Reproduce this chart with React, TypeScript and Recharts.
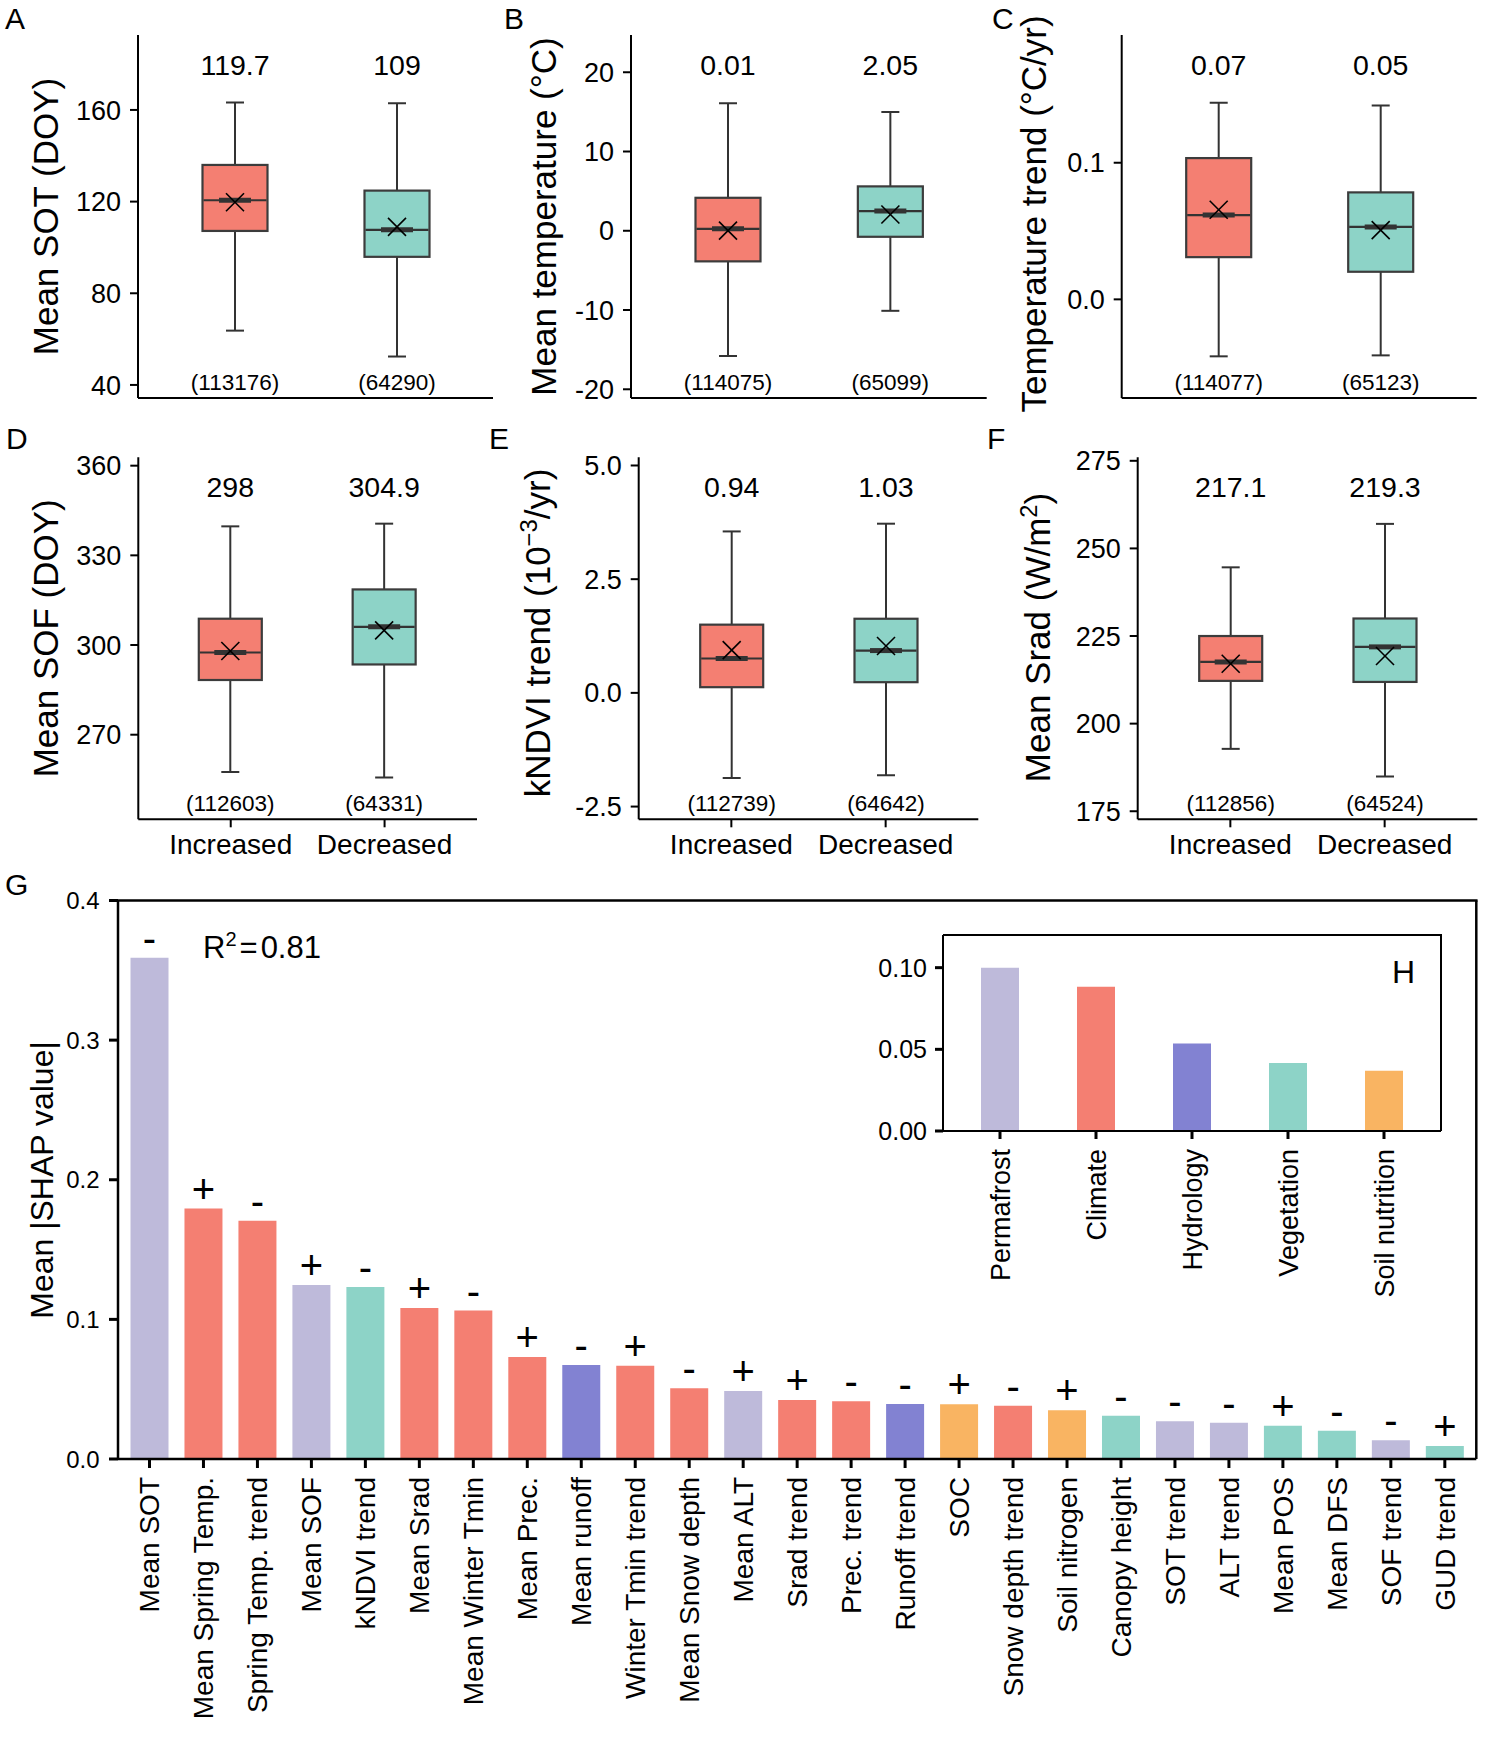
import React from 'react';
import { BarChart, Bar, XAxis, YAxis, Cell, LabelList, Customized } from 'recharts';

const FONT = "'Liberation Sans', Arial, Helvetica, sans-serif";

// ---------- Panels A-F (box plots) ----------
const groupLabels = ['Increased', 'Decreased'];
const boxFills = ['#F47F72', '#8DD3C7'];

// [whisker low, Q1, median, Q3, whisker high]
const sotBox = [[63.7, 107.2, 120.6, 136.0, 163.2], [52.4, 95.9, 107.7, 124.8, 162.9]];
const sotMean = [119.7, 109];
const sotN = [113176, 64290];

const tempBox = [[-15.8, -3.86, 0.25, 4.16, 16.1], [-10.1, -0.76, 2.48, 5.6, 15.0]];
const tempMean = [0.01, 2.05];
const tempN = [114075, 65099];

const trendBox = [[-0.0417, 0.0309, 0.0617, 0.1034, 0.144], [-0.041, 0.0202, 0.053, 0.0783, 0.1419]];
const trendMean = [0.0656, 0.0507];
const trendN = [114077, 65123];

const sofBox = [[257.5, 288.3, 297.5, 308.8, 339.7], [255.7, 293.5, 306.1, 318.6, 340.6]];
const sofMean = [298, 304.9];
const sofN = [112603, 64331];

const kndviBox = [[-1.87, 0.125, 0.756, 1.5, 3.55], [-1.81, 0.235, 0.93, 1.63, 3.72]];
const kndviMean = [0.94, 1.03];
const kndviN = [112739, 64642];

const sradBox = [[192.8, 212.2, 217.6, 225.0, 244.6], [184.9, 211.9, 221.9, 230.0, 257.0]];
const sradMean = [217.1, 219.3];
const sradN = [112856, 64524];

// ---------- Panel G ----------
const features = [
  'Mean SOT', 'Mean Spring Temp.', 'Spring Temp. trend', 'Mean SOF', 'kNDVI trend', 'Mean Srad',
  'Mean Winter Tmin', 'Mean Prec.', 'Mean runoff', 'Winter Tmin trend', 'Mean Snow depth', 'Mean ALT',
  'Srad trend', 'Prec. trend', 'Runoff trend', 'SOC', 'Snow depth trend', 'Soil nitrogen',
  'Canopy height', 'SOT trend', 'ALT trend', 'Mean POS', 'Mean DFS', 'SOF trend', 'GUD trend',
];
const shapValues = [
  0.359, 0.1794, 0.1706, 0.1246, 0.1232, 0.1082, 0.1063, 0.0731, 0.0674, 0.0668, 0.0506, 0.0487,
  0.0423, 0.0413, 0.0394, 0.0392, 0.0382, 0.0349, 0.031, 0.027, 0.026, 0.0239, 0.0203, 0.0134, 0.0093,
];
const shapSigns = [
  '-', '+', '-', '+', '-', '+', '-', '+', '-', '+', '-', '+', '+', '-', '-', '+', '-', '+', '-', '-', '-', '+', '-', '-', '+',
];
const featureGroups = [
  'Permafrost', 'Climate', 'Climate', 'Permafrost', 'Vegetation', 'Climate', 'Climate', 'Climate', 'Hydrology',
  'Climate', 'Climate', 'Permafrost', 'Climate', 'Climate', 'Hydrology', 'Soil nutrition', 'Climate',
  'Soil nutrition', 'Vegetation', 'Permafrost', 'Permafrost', 'Vegetation', 'Vegetation', 'Permafrost', 'Vegetation',
];

// ---------- Panel H ----------
const groupNames = ['Permafrost', 'Climate', 'Hydrology', 'Vegetation', 'Soil nutrition'];
const groupValues = [0.1, 0.0883, 0.0535, 0.0416, 0.0369];
const groupColorList = ['#BEBADA', '#F47F72', '#8282D2', '#8DD3C7', '#F9B462'];

const groupColor: Record<string, string> = {};
groupNames.forEach((g, i) => { groupColor[g] = groupColorList[i]; });

type Seg = [string, boolean];
type Panel = {
  letter: string; L: number; T: number; W: number; H: number;
  axisX: number; plotTop: number; plotBottom: number; plotRight: number;
  domain: [number, number]; ticks: number[]; fmt: (v: number) => string; digits: number;
  boxes: number[][]; means: number[]; ns: number[]; barSize: number; showLabels: boolean;
  title: Seg[]; titleX: number; titleY: number; letterX: number; letterY: number;
};

const row1 = { T: 0, H: 420, plotTop: 35, plotBottom: 398, barSize: 65, showLabels: false };
const row2 = { T: 420, H: 450, plotTop: 457.3, plotBottom: 819.3, barSize: 63, showLabels: true };

const panels: Panel[] = [
  { ...row1, letter: 'A', L: 0, W: 500, axisX: 138, plotRight: 493, domain: [34.3, 192.7], ticks: [40, 80, 120, 160],
    fmt: (v) => String(v), digits: 1, boxes: sotBox, means: sotMean, ns: sotN,
    title: [['Mean SOT (DOY)', false]], titleX: 58, titleY: 216.5, letterX: 5, letterY: 29 },
  { ...row1, letter: 'B', L: 495, W: 500, axisX: 631, plotRight: 986.7, domain: [-21.1, 24.7], ticks: [-20, -10, 0, 10, 20],
    fmt: (v) => String(v), digits: 2, boxes: tempBox, means: tempMean, ns: tempN,
    title: [['Mean temperature (\u00B0C)', false]], titleX: 556, titleY: 216.5, letterX: 504, letterY: 29 },
  { ...row1, letter: 'C', L: 990, W: 513, axisX: 1121.7, plotRight: 1476.7, domain: [-0.0722, 0.1935], ticks: [0, 0.1],
    fmt: (v) => v.toFixed(1), digits: 2, boxes: trendBox, means: trendMean, ns: trendN,
    title: [['Temperature trend (\u00B0C/yr)', false]], titleX: 1046, titleY: 214, letterX: 992, letterY: 29 },
  { ...row2, letter: 'D', L: 0, W: 490, axisX: 138.3, plotRight: 477, domain: [241.7, 362.8], ticks: [270, 300, 330, 360],
    fmt: (v) => String(v), digits: 1, boxes: sofBox, means: sofMean, ns: sofN,
    title: [['Mean SOF (DOY)', false]], titleX: 58, titleY: 638.3, letterX: 6, letterY: 449 },
  { ...row2, letter: 'E', L: 485, W: 500, axisX: 638.7, plotRight: 978.3, domain: [-2.78, 5.18], ticks: [-2.5, 0, 2.5, 5],
    fmt: (v) => v.toFixed(1), digits: 2, boxes: kndviBox, means: kndviMean, ns: kndviN,
    title: [['kNDVI trend (10', false], ['\u22123', true], ['/yr)', false]], titleX: 550, titleY: 633, letterX: 489, letterY: 449 },
  { ...row2, letter: 'F', L: 983, W: 520, axisX: 1137.7, plotRight: 1477.3, domain: [172.7, 276], ticks: [175, 200, 225, 250, 275],
    fmt: (v) => String(v), digits: 1, boxes: sradBox, means: sradMean, ns: sradN,
    title: [['Mean Srad (W/m', false], ['2', true], [')', false]], titleX: 1050, titleY: 637.5, letterX: 987, letterY: 449 },
];

function fmtMean(v: number, d: number) {
  return String(Number(v.toFixed(d)));
}

function BoxShape(props: any) {
  const { x, y, width, height, payload, cfg } = props;
  if (!payload) return null;
  const [mn, q1, md, q3, mx] = payload.box as number[];
  const top = Math.min(y, y + height);
  const bot = Math.max(y, y + height);
  const pix = (v: number) => top + ((mx - v) / (mx - mn)) * (bot - top);
  const cx = x + width / 2;
  const stroke = '#333';
  const pm = pix(payload.mean);
  const s = 9;
  return (
    <g>
      <line x1={cx} x2={cx} y1={pix(mx)} y2={pix(q3)} stroke={stroke} strokeWidth={2} />
      <line x1={cx} x2={cx} y1={pix(q1)} y2={pix(mn)} stroke={stroke} strokeWidth={2} />
      <line x1={cx - 9} x2={cx + 9} y1={pix(mx)} y2={pix(mx)} stroke={stroke} strokeWidth={2} />
      <line x1={cx - 9} x2={cx + 9} y1={pix(mn)} y2={pix(mn)} stroke={stroke} strokeWidth={2} />
      <rect x={x} y={pix(q3)} width={width} height={pix(q1) - pix(q3)} fill={payload.fill} stroke="#3c3c3c" strokeWidth={2.2} />
      <line x1={x + 1} x2={x + width - 1} y1={pix(md)} y2={pix(md)} stroke={stroke} strokeWidth={2.2} />
      <line x1={cx - 16} x2={cx + 16} y1={pix(md)} y2={pix(md)} stroke={stroke} strokeWidth={5} />
      <line x1={cx - s} x2={cx + s} y1={pm - s} y2={pm + s} stroke="#000" strokeWidth={1.6} />
      <line x1={cx - s} x2={cx + s} y1={pm + s} y2={pm - s} stroke="#000" strokeWidth={1.6} />
      <text x={cx} y={pix(cfg.domain[1]) + 40} textAnchor="middle" fontSize={28.5} fontFamily={FONT} fill="#000">
        {fmtMean(payload.mean, cfg.digits)}
      </text>
      <text x={cx} y={pix(cfg.domain[0]) - 8} textAnchor="middle" fontSize={22.5} fontFamily={FONT} fill="#000">
        {`(${payload.n})`}
      </text>
    </g>
  );
}

function renderTitle(segs: Seg[], tx: number, ty: number, fontSize: number) {
  return (
    <text x={tx} y={ty} transform={`rotate(-90, ${tx}, ${ty})`} textAnchor="middle" fontSize={fontSize} fontFamily={FONT} fill="#000">
      {segs.map(([str, sup], i) => {
        if (sup) return <tspan key={i} dy={-13} fontSize={fontSize * 0.68}>{str}</tspan>;
        const back = i > 0 && segs[i - 1][1] ? 13 : 0;
        return <tspan key={i} dy={back}>{str}</tspan>;
      })}
    </text>
  );
}

function BoxPanel({ cfg }: { cfg: Panel }) {
  const data = groupLabels.map((g, i) => ({
    cat: g, box: cfg.boxes[i], mean: cfg.means[i], n: cfg.ns[i], fill: boxFills[i],
  }));
  const margin = { top: cfg.plotTop - cfg.T, right: cfg.L + cfg.W - cfg.plotRight, bottom: 0, left: 0 };
  const yW = cfg.axisX - cfg.L;
  const xH = cfg.T + cfg.H - cfg.plotBottom;
  const axisStyle = { stroke: '#000', strokeWidth: 2 };
  return (
    <div style={{ position: 'absolute', left: cfg.L, top: cfg.T }}>
      <BarChart width={cfg.W} height={cfg.H} data={data} margin={margin}>
        <XAxis
          dataKey="cat"
          interval={0}
          padding={{ left: 15.5, right: 15.5 }}
          height={xH}
          axisLine={axisStyle}
          tickLine={axisStyle}
          tickSize={8}
          tickMargin={7}
          tick={cfg.showLabels ? { fontSize: 28, fill: '#000', fontFamily: FONT } : false}
        />
        <YAxis
          type="number"
          domain={cfg.domain}
          ticks={cfg.ticks}
          allowDataOverflow
          width={yW}
          axisLine={axisStyle}
          tickLine={axisStyle}
          tickSize={8}
          tickMargin={9}
          tickFormatter={cfg.fmt}
          tick={{ fontSize: 27, fill: '#000', fontFamily: FONT }}
        />
        <Bar
          dataKey={(d: any) => [d.box[0], d.box[4]]}
          barSize={cfg.barSize}
          isAnimationActive={false}
          shape={(p: any) => <BoxShape {...p} cfg={cfg} />}
        />
        <Customized
          component={() => (
            <g>
              {renderTitle(cfg.title, cfg.titleX - cfg.L, cfg.titleY - cfg.T, 35)}
              <text x={cfg.letterX - cfg.L} y={cfg.letterY - cfg.T} fontSize={30} fontFamily={FONT} fill="#000">{cfg.letter}</text>
            </g>
          )}
        />
      </BarChart>
    </div>
  );
}

function RotTick(props: any) {
  const { x, y, payload, fs, off } = props;
  const tx = x + off;
  return (
    <text x={tx} y={y} transform={`rotate(-90, ${tx}, ${y})`} textAnchor="end" fontSize={fs} fontFamily={FONT} fill="#000">
      {payload.value}
    </text>
  );
}

function SignLabel(props: any) {
  const { x, y, width, value } = props;
  return (
    <text x={x + width / 2} y={y - 6} textAnchor="middle" fontSize={40} fontFamily={FONT} fill="#000">{value}</text>
  );
}

// top and right edges of a boxed plot frame (left/bottom are the axis lines)
function Frame({ left, top, right, bottom, sw }: { left: number; top: number; right: number; bottom: number; sw: number }) {
  return (
    <g>
      <line x1={left} x2={right + sw / 2} y1={top} y2={top} stroke="#000" strokeWidth={sw} />
      <line x1={right} x2={right} y1={top} y2={bottom} stroke="#000" strokeWidth={sw} />
    </g>
  );
}

function ShapPanel() {
  const data = features.map((f, i) => ({ name: f, shap: shapValues[i], sign: shapSigns[i], group: featureGroups[i] }));
  const L = 0, T = 860, W = 1503, H = 892;
  const axisX = 118, plotTop = 900.5, plotBottom = 1459, plotRight = 1476.3;
  const line = { stroke: '#000', strokeWidth: 2.5 };
  return (
    <div style={{ position: 'absolute', left: L, top: T }}>
      <BarChart width={W} height={H} data={data} margin={{ top: plotTop - T, right: L + W - plotRight, bottom: 0, left: 0 }}>
        <XAxis
          dataKey="name"
          interval={0}
          padding={{ left: 4.5, right: 4.5 }}
          height={T + H - plotBottom}
          axisLine={line}
          tickLine={{ stroke: '#000', strokeWidth: 3 }}
          tickSize={9}
          tickMargin={9}
          tick={(p: any) => <RotTick {...p} fs={28} off={10} />}
        />
        <YAxis
          type="number"
          domain={[0, 0.4]}
          ticks={[0, 0.1, 0.2, 0.3, 0.4]}
          allowDataOverflow
          width={axisX - L}
          axisLine={line}
          tickLine={{ stroke: '#000', strokeWidth: 3 }}
          tickSize={9}
          tickMargin={9.5}
          tickFormatter={(v: number) => v.toFixed(1)}
          tick={{ fontSize: 24, fill: '#000', fontFamily: FONT }}
        />
        <Bar dataKey="shap" barSize={38} isAnimationActive={false}>
          {data.map((d, i) => <Cell key={i} fill={groupColor[d.group]} />)}
          <LabelList dataKey="sign" content={(p: any) => <SignLabel {...p} />} />
        </Bar>
        <Customized
          component={() => (
            <g>
              <Frame left={axisX - L} top={plotTop - T} right={plotRight - L} bottom={plotBottom - T} sw={2.5} />
              {renderTitle([['Mean |SHAP value|', false]], 53 - L, 1180 - T, 32)}
              <text x={5 - L} y={895 - T} fontSize={30} fontFamily={FONT} fill="#000">G</text>
              <text x={203 - L} y={958 - T} fontSize={31} fontFamily={FONT} fill="#000">
                R<tspan dy={-12} fontSize={20}>2</tspan><tspan dy={12} dx={3}>=</tspan><tspan dx={3}>0.81</tspan>
              </text>
            </g>
          )}
        />
      </BarChart>
    </div>
  );
}

function InsetPanel() {
  const data = groupNames.map((g, i) => ({ name: g, value: groupValues[i], color: groupColorList[i] }));
  const L = 850, T = 900, W = 620, H = 400;
  const axisX = 943, plotTop = 935, plotBottom = 1131, plotRight = 1441;
  const line = { stroke: '#000', strokeWidth: 2 };
  return (
    <div style={{ position: 'absolute', left: L, top: T }}>
      <BarChart width={W} height={H} data={data} margin={{ top: plotTop - T, right: L + W - plotRight, bottom: 0, left: 0 }}>
        <XAxis
          dataKey="name"
          interval={0}
          padding={{ left: 9, right: 9 }}
          height={T + H - plotBottom}
          axisLine={line}
          tickLine={{ stroke: '#000', strokeWidth: 3 }}
          tickSize={8}
          tickMargin={10}
          tick={(p: any) => <RotTick {...p} fs={27} off={10} />}
        />
        <YAxis
          type="number"
          domain={[0, 0.12]}
          ticks={[0, 0.05, 0.1]}
          allowDataOverflow
          width={axisX - L}
          axisLine={line}
          tickLine={{ stroke: '#000', strokeWidth: 3 }}
          tickSize={8}
          tickMargin={8}
          tickFormatter={(v: number) => v.toFixed(2)}
          tick={{ fontSize: 25, fill: '#000', fontFamily: FONT }}
        />
        <Bar dataKey="value" barSize={38} isAnimationActive={false}>
          {data.map((d, i) => <Cell key={i} fill={d.color} />)}
        </Bar>
        <Customized
          component={() => (
            <g>
              <Frame left={axisX - L} top={plotTop - T} right={plotRight - L} bottom={plotBottom - T} sw={2} />
              <text x={1392 - L} y={983 - T} fontSize={32} fontFamily={FONT} fill="#000">H</text>
            </g>
          )}
        />
      </BarChart>
    </div>
  );
}

export default function App() {
  return (
    <div style={{ position: 'absolute', left: 0, top: 0, width: 1503, height: 1752, background: '#fff', fontFamily: FONT }}>
      {panels.map((p) => <BoxPanel key={p.letter} cfg={p} />)}
      <ShapPanel />
      <InsetPanel />
    </div>
  );
}
